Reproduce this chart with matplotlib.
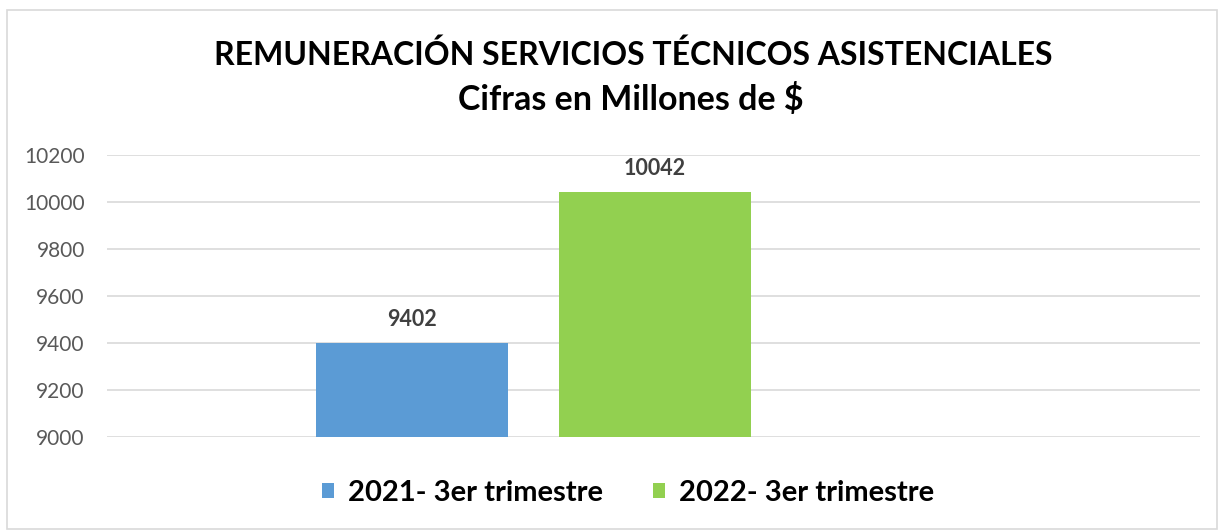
import numpy as np
import matplotlib.pyplot as plt
from matplotlib.patches import Rectangle

# ===================== DATOS =====================
series = ['2021- 3er trimestre', '2022- 3er trimestre']
valores = [9402, 10042]
posiciones = [-1, 0]
colores = ['#5B9BD5', '#92D050']
yticks = [9000, 9200, 9400, 9600, 9800, 10000, 10200]

plt.rcParams['font.family'] = ['Lato', 'DejaVu Sans']

# ===================== FIGURA =====================
fig = plt.figure(figsize=(12.2, 5.31), dpi=100)
ax = fig.add_axes([107 / 1220, 94 / 531, 1093 / 1220, 282 / 531])

barras = []
for p, v, c, s in zip(posiciones, valores, colores, series):
    b = ax.bar(p, v - 9000, bottom=9000, width=0.79, color=c, label=s, zorder=3)
    barras.append(b)
    ax.text(p, v + 55, f'{v}', ha='center', va='bottom', fontsize=15.5,
            fontweight='bold', color='#404040')

ax.set_ylim(9000, 10200)
ax.set_xlim(-2.255, 2.243)
ax.set_yticks(yticks)
ax.set_xticks([])
ax.tick_params(axis='y', length=0, labelsize=15, labelcolor='#595959', pad=16)
ax.grid(axis='y', color='#D9D9D9', linewidth=1.2, zorder=0)
for s in ax.spines.values():
    s.set_visible(False)

# ===================== TÍTULO =====================
fig.text(0.519, 1 - 55 / 531, 'REMUNERACIÓN SERVICIOS TÉCNICOS ASISTENCIALES',
         ha='center', va='center', fontsize=23, fontweight='bold', color='black')
fig.text(0.517, 1 - 100 / 531, 'Cifras en Millones de $',
         ha='center', va='center', fontsize=24.5, fontweight='bold', color='black')

# ===================== LEYENDA =====================
fig.legend(handles=barras, labels=series, loc='center', ncol=2,
           bbox_to_anchor=(0.515, 1 - 493 / 531), frameon=False,
           prop={'size': 21, 'weight': 'bold'}, handlelength=0.4,
           handleheight=0.4, handletextpad=0.5, columnspacing=1.7)

# borde del gráfico
fig.patches.append(Rectangle((7 / 1220, 2 / 531), 1210 / 1220, 519 / 531,
                             transform=fig.transFigure, fill=False,
                             edgecolor='#D9D9D9', linewidth=1.2))

fig.savefig('out.png', dpi=100, facecolor='white')
